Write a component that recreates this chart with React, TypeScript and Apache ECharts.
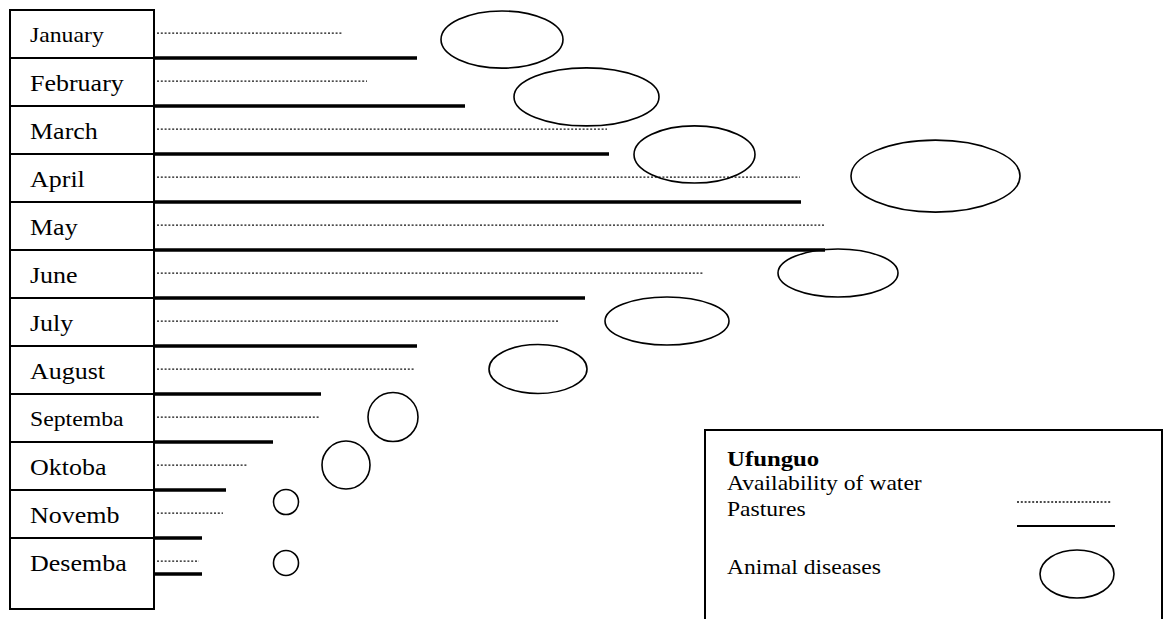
import React, { useEffect, useRef } from "react";
import * as echarts from "echarts";

// Months (Swahili / English mix as in the source)
const months = [
  "January", "February", "March", "April", "May", "June",
  "July", "August", "Septemba", "Oktoba", "Novemb", "Desemba",
];
// Relative length of the "availability of water" (dotted) bar per month
const waterAvailability = [18.9, 21.3, 45.3, 64.6, 67.0, 54.9, 40.5, 26.1, 16.5, 9.3, 6.9, 4.5];
// Relative length of the "pastures" (solid) bar per month
const pastures = [26.3, 31.1, 45.5, 64.7, 67.1, 43.1, 26.3, 16.7, 11.9, 7.2, 4.8, 4.8];
// Animal diseases: ellipse centre along the scale, month position, extent
const diseaseX = [34.8, 43.25, 54.05, 78.15, 68.4, 51.3, 38.4, 23.9, 19.2, 13.2, 13.2];
const diseaseMonthPos = [0.615, 1.81, 3.01, 3.46, 5.48, 6.48, 7.48, 8.48, 9.48, 10.25, 11.52];
const diseaseWidth = [12.2, 14.5, 12.1, 16.9, 12.0, 12.4, 9.8, 5.0, 4.8, 2.5, 2.5];
const diseaseHeight = [1.19, 1.21, 1.19, 1.5, 1.0, 1.0, 1.02, 1.02, 1.0, 0.52, 0.52];

const legendTitle = "Ufunguo";
const legendLabels = ["Availability of water", "Pastures", "Animal diseases"];

const FONT = '"Liberation Serif", "Times New Roman", serif';
const X_MIN = -14.4;
const X_MAX = 100.6;
const Y_MAX = 12.479;
const STRETCH = 1.13;
const DOT_STYLE = { stroke: "#111", lineWidth: 1.3, lineDash: [2, 1.8] };

export default function App() {
  const ref = useRef<HTMLDivElement>(null);

  useEffect(() => {
    if (!ref.current) return;
    const chart = echarts.init(ref.current, undefined, { renderer: "svg" });
    const last = months.length - 1;

    const legendText = (text: string, y: number, bold = false) => ({
      type: "text",
      x: 727,
      y,
      scaleX: 1.18,
      style: {
        text,
        fontFamily: FONT,
        fontSize: bold ? 21 : 20,
        fontWeight: bold ? "bold" : "normal",
        fill: "#000",
        align: "left",
        verticalAlign: "middle",
      },
    });

    const option: any = {
      animation: false,
      backgroundColor: "#ffffff",
      grid: { left: 10, right: 8, top: 10, bottom: 10 },
      xAxis: { type: "value", min: X_MIN, max: X_MAX, show: false },
      yAxis: { type: "value", min: 0, max: Y_MAX, inverse: true, show: false },
      series: [
        {
          name: "Months",
          type: "custom",
          clip: false,
          silent: true,
          data: months.map((m, i) => [X_MIN, i]),
          renderItem: (params: any, api: any) => {
            const i = params.dataIndex;
            const bottom = i === last ? Y_MAX : i + 1;
            const p1 = api.coord([X_MIN, i]);
            const p2 = api.coord([0, bottom]);
            const lp = api.coord([-12.4, i + 0.53]);
            const small = months[i] === "January" || months[i] === "Septemba";
            return {
              type: "group",
              children: [
                {
                  type: "rect",
                  shape: { x: p1[0], y: p1[1], width: p2[0] - p1[0], height: p2[1] - p1[1] },
                  style: { fill: "none", stroke: "#000", lineWidth: 2 },
                },
                {
                  type: "text",
                  x: lp[0],
                  y: lp[1],
                  scaleX: STRETCH,
                  style: {
                    text: months[i],
                    fontFamily: FONT,
                    fontSize: small ? 21 : 23,
                    fill: "#000",
                    align: "left",
                    verticalAlign: "middle",
                  },
                },
              ],
            };
          },
        },
        {
          name: "Availability of water",
          type: "custom",
          clip: false,
          silent: true,
          data: waterAvailability.map((v, i) => [v, i]),
          renderItem: (params: any, api: any) => {
            const v = api.value(0);
            const i = api.value(1);
            const a = api.coord([0.3, i + 0.48]);
            const b = api.coord([v, i + 0.48]);
            return {
              type: "line",
              shape: { x1: a[0], y1: a[1], x2: b[0], y2: b[1] },
              style: { ...DOT_STYLE },
            };
          },
        },
        {
          name: "Pastures",
          type: "custom",
          clip: false,
          silent: true,
          data: pastures.map((v, i) => [v, i]),
          renderItem: (params: any, api: any) => {
            const v = api.value(0);
            const i = api.value(1);
            const y = i === last ? i + 0.75 : i + 1;
            const a = api.coord([0, y]);
            const b = api.coord([v, y]);
            return {
              type: "line",
              shape: { x1: a[0], y1: a[1], x2: b[0], y2: b[1] },
              style: { stroke: "#000", lineWidth: 3.5 },
            };
          },
        },
        {
          name: "Animal diseases",
          type: "custom",
          clip: false,
          silent: true,
          data: diseaseX.map((x, i) => [x, diseaseMonthPos[i], diseaseWidth[i], diseaseHeight[i]]),
          renderItem: (params: any, api: any) => {
            const c = api.coord([api.value(0), api.value(1)]);
            const s = api.size([api.value(2), api.value(3)], [api.value(0), api.value(1)]);
            return {
              type: "ellipse",
              shape: { cx: c[0], cy: c[1], rx: s[0] / 2, ry: s[1] / 2 },
              style: { fill: "none", stroke: "#000", lineWidth: 1.6 },
            };
          },
        },
      ],
      graphic: [
        {
          type: "rect",
          silent: true,
          shape: { x: 705, y: 430, width: 457, height: 220 },
          style: { fill: "#fff", stroke: "#000", lineWidth: 2 },
        },
        legendText(legendTitle, 459, true),
        legendText(legendLabels[0], 484),
        legendText(legendLabels[1], 510),
        legendText(legendLabels[2], 568),
        {
          type: "line",
          shape: { x1: 1017, y1: 502, x2: 1111, y2: 502 },
          style: { ...DOT_STYLE },
        },
        {
          type: "line",
          shape: { x1: 1017, y1: 526, x2: 1115, y2: 526 },
          style: { stroke: "#000", lineWidth: 2 },
        },
        {
          type: "ellipse",
          shape: { cx: 1077, cy: 574, rx: 37, ry: 24 },
          style: { fill: "none", stroke: "#000", lineWidth: 1.6 },
        },
      ],
    };

    chart.setOption(option);
    return () => chart.dispose();
  }, []);

  return (
    <div
      ref={ref}
      style={{ position: "absolute", left: 0, top: 0, width: 1168, height: 619, background: "#fff" }}
    />
  );
}
